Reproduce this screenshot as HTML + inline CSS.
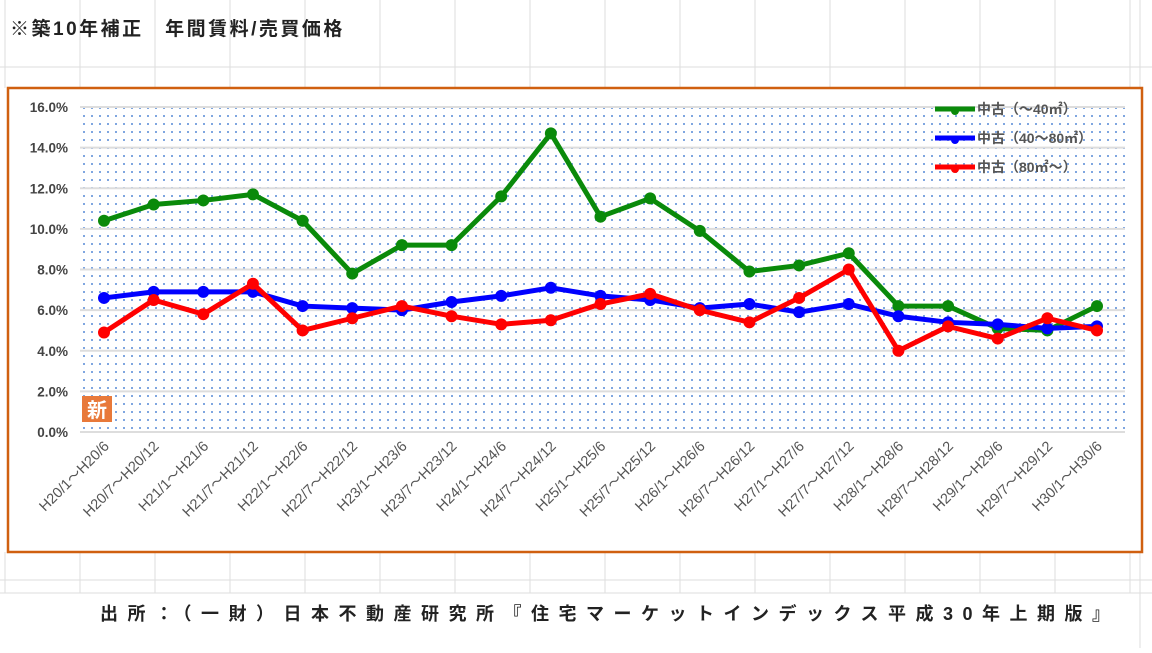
<!DOCTYPE html>
<html><head><meta charset="utf-8"><style>
body{margin:0;width:1152px;height:648px;background:#fff;overflow:hidden;font-family:"Liberation Sans","Noto Sans CJK JP",sans-serif}
</style></head><body>
<svg width="1152" height="648">
<defs><pattern id="dots" width="8" height="8" patternUnits="userSpaceOnUse"><rect x="3" y="3" width="2" height="2" fill="#7fa6e0"/></pattern></defs>
<g stroke="#ddd" stroke-width="1" id="sheet">
<line x1="0" y1="67" x2="1152" y2="67"/><line x1="0" y1="580" x2="1152" y2="580"/><line x1="0" y1="593" x2="1152" y2="593"/>
<line x1="1140" y1="0" x2="1140" y2="648"/>
</g>
<text x="10" y="35" font-size="19" font-weight="bold" fill="#222" letter-spacing="2.5">※築10年補正　年間賃料/売買価格</text>
<rect x="8" y="88" width="1134" height="464" fill="#fff" stroke="#d06010" stroke-width="2.5"/>
<rect x="80" y="107" width="1045" height="325" fill="url(#dots)"/>
<g id="grid"></g>
<g id="yt"></g>
<g id="xt"></g>
<g id="series"></g>
<rect x="82" y="396" width="30" height="26" fill="#e8793a"/>
<text x="97" y="417" font-size="20" font-weight="bold" fill="#fff" text-anchor="middle">新</text>
<g font-size="14" font-weight="bold" fill="#555">
<line x1="935" y1="109" x2="975" y2="109" stroke="#0a8a0a" stroke-width="5"/><circle cx="955" cy="111" r="4" fill="#0a8a0a"/>
<text x="977" y="114">中古（～40㎡）</text>
<line x1="935" y1="138" x2="975" y2="138" stroke="#0000ff" stroke-width="5"/><circle cx="955" cy="140" r="4" fill="#0000ff"/>
<text x="977" y="143">中古（40～80㎡）</text>
<line x1="935" y1="167" x2="975" y2="167" stroke="#ff0000" stroke-width="5"/><circle cx="955" cy="169" r="4" fill="#ff0000"/>
<text x="977" y="172">中古（80㎡～）</text>
</g>
<text x="100" y="620" font-size="18" font-weight="bold" fill="#222" letter-spacing="9.5">出所：（一財）日本不動産研究所『住宅マーケットインデックス平成30年上期版』</text>
</svg>
<script>
const categories=["H20/1～H20/6","H20/7～H20/12","H21/1～H21/6","H21/7～H21/12","H22/1～H22/6","H22/7～H22/12","H23/1～H23/6","H23/7～H23/12","H24/1～H24/6","H24/7～H24/12","H25/1～H25/6","H25/7～H25/12","H26/1～H26/6","H26/7～H26/12","H27/1～H27/6","H27/7～H27/12","H28/1～H28/6","H28/7～H28/12","H29/1～H29/6","H29/7～H29/12","H30/1～H30/6"];
const smallUnits=[10.4,11.2,11.4,11.7,10.4,7.8,9.2,9.2,11.6,14.7,10.6,11.5,9.9,7.9,8.2,8.8,6.2,6.2,5.1,5.0,6.2];
const midUnits=[6.6,6.9,6.9,6.9,6.2,6.1,6.0,6.4,6.7,7.1,6.7,6.5,6.1,6.3,5.9,6.3,5.7,5.4,5.3,5.1,5.2];
const largeUnits=[4.9,6.5,5.8,7.3,5.0,5.6,6.2,5.7,5.3,5.5,6.3,6.8,6.0,5.4,6.6,8.0,4.0,5.2,4.6,5.6,5.0];
const yTicks=[0,2,4,6,8,10,12,14,16];
const NS="http://www.w3.org/2000/svg";
const x=i=>104+i*(1097-104)/(categories.length-1);
const y=v=>432-v*(325/16);
function mk(t,a,p){const e=document.createElementNS(NS,t);for(const k in a)e.setAttribute(k,a[k]);p.appendChild(e);return e;}
const sheet=document.getElementById('sheet');
for(let gx=5;gx<1140;gx+=75){mk('line',{x1:gx,x2:gx,y1:0,y2:88},sheet);mk('line',{x1:gx,x2:gx,y1:552,y2:593},sheet);}
const grid=document.getElementById('grid'),yt=document.getElementById('yt'),xt=document.getElementById('xt'),ser=document.getElementById('series');
yTicks.forEach(v=>{
 const l=mk('line',{x1:80,x2:1125,y1:y(v),y2:y(v),stroke:'#ddd','stroke-width':2},grid);
 
 
 const t=mk('text',{x:68,y:y(v)+5,'font-size':13.5,'font-weight':'bold',fill:'#444','text-anchor':'end'},yt);
 t.textContent=v.toFixed(1)+'%';
 
 
});
categories.forEach((c,i)=>{
 const t=mk('text',{x:x(i)+6,y:447,'font-size':14.5,fill:'#555','text-anchor':'end',transform:`rotate(-45 ${x(i)+6} 447)`},xt);
 t.textContent=c;
 
 
});
[[smallUnits,'#0a8a0a','series-small'],[midUnits,'#0000ff','series-mid'],[largeUnits,'#ff0000','series-large']].forEach(([d,col,name])=>{
 const g=mk('g',{},ser);
 
 
 const p=mk('polyline',{points:d.map((v,i)=>x(i)+','+y(v)).join(' '),fill:'none',stroke:col,'stroke-width':5,'stroke-linejoin':'round'},g);
 
 
 d.forEach((v,i)=>{
  const c=mk('circle',{cx:x(i),cy:y(v),r:6,fill:col},g);
  
  
 });
});
</script>
</body></html>
